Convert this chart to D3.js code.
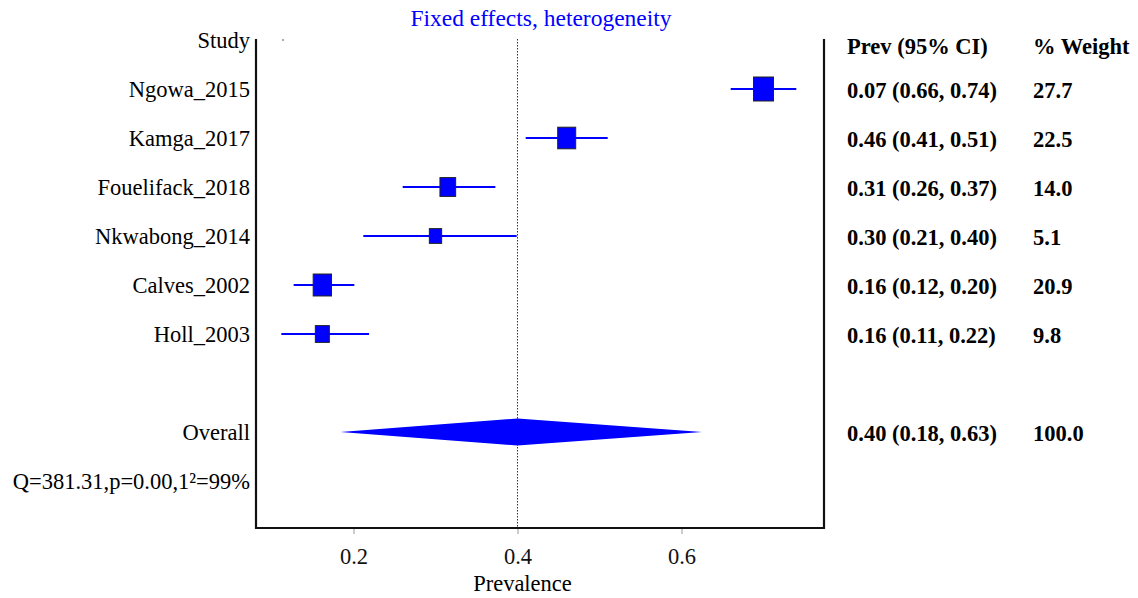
<!DOCTYPE html>
<html>
<head>
<meta charset="utf-8">
<script src="https://cdn.jsdelivr.net/npm/d3@7"></script>
<style>
  body { margin: 0; background: #fff; }
  text { font-family: "Liberation Serif", "Times New Roman", serif; }
</style>
</head>
<body>
<div id="chart"></div>
<script>
(function () {
// study data
var studies = ["Ngowa_2015", "Kamga_2017", "Fouelifack_2018", "Nkwabong_2014", "Calves_2002", "Holl_2003"];
var prev = [0.70, 0.46, 0.315, 0.30, 0.162, 0.162];
var lower = [0.66, 0.41, 0.26, 0.212, 0.127, 0.112];
var upper = [0.74, 0.51, 0.373, 0.399, 0.201, 0.219];
var ciLabels = ["0.07 (0.66, 0.74)", "0.46 (0.41, 0.51)", "0.31 (0.26, 0.37)", "0.30 (0.21, 0.40)", "0.16 (0.12, 0.20)", "0.16 (0.11, 0.22)"];
var weights = ["27.7", "22.5", "14.0", "5.1", "20.9", "9.8"];
var boxW = [20, 18, 15.7, 12.3, 18.3, 14];

var overall = { est: 0.40, lo: 0.184, hi: 0.625, label: "0.40 (0.18, 0.63)", weight: "100.0" };
var xTicks = [0.2, 0.4, 0.6];
var hetText = "Q=381.31,p=0.00,1\u00b2=99%";

var width = 1138, height = 598;
var left = 256, right = 824, top = 39, bottom = 528;
var fs = "22.5px";

var svg = d3.select("#chart").append("svg")
    .attr("width", width)
    .attr("height", height);

var x = d3.scaleLinear().domain([0.2, 0.6]).range([353.5, 681.5]);

// row positions
var rowY = function (i) { return 89 + i * 49; };
var overallY = 432, hetY = 481, headY = 42;

// title
svg.append("text")
    .attr("x", 541).attr("y", 26)
    .attr("text-anchor", "middle")
    .attr("fill", "#0000ff")
    .style("font-size", "23.5px")
    .text("Fixed effects, heterogeneity");

// frame (left, bottom, right)
svg.append("path")
    .attr("d", "M" + left + "," + top + "V" + bottom + "H" + right + "V" + top)
    .attr("fill", "none")
    .attr("stroke", "#111")
    .attr("stroke-width", 2.2);

// axis ticks + labels
var axis = d3.axisBottom(x).tickValues(xTicks).tickSize(5).tickFormat(d3.format(".1f"));
var gx = svg.append("g").attr("transform", "translate(0," + (bottom + 1) + ")").call(axis);
gx.select(".domain").remove();
gx.selectAll(".tick line").attr("stroke", "#999");
gx.selectAll(".tick text")
    .attr("y", 19)
    .attr("fill", "#111")
    .style("font-family", "Liberation Serif, serif")
    .style("font-size", fs);

svg.append("text")
    .attr("x", x(0.4) + 5).attr("y", 591)
    .attr("text-anchor", "middle")
    .style("font-size", fs)
    .text("Prevalence");

// reference line at overall estimate
svg.append("line")
    .attr("x1", x(overall.est)).attr("x2", x(overall.est))
    .attr("y1", top).attr("y2", bottom)
    .attr("stroke", "#333")
    .attr("stroke-width", 1)
    .attr("stroke-dasharray", "1.5,1.5");

// tiny stray dot near top
svg.append("circle").attr("cx", 283).attr("cy", 40).attr("r", 0.8).attr("fill", "#444");

// headers
svg.append("text").attr("x", 250).attr("y", headY + 6)
    .attr("text-anchor", "end").style("font-size", fs).text("Study");
svg.append("text").attr("x", 847).attr("y", headY + 12)
    .style("font-size", fs).style("font-weight", "bold").text("Prev (95% CI)");
svg.append("text").attr("x", 1033).attr("y", headY + 12)
    .style("font-size", fs).style("font-weight", "bold").text("% Weight");

// study rows
var rows = svg.append("g").selectAll("g").data(studies).enter().append("g");

rows.append("text")
    .attr("x", 250).attr("y", function (d, i) { return rowY(i) + 8; })
    .attr("text-anchor", "end")
    .style("font-size", fs)
    .text(function (d) { return d; });

rows.append("line")
    .attr("x1", function (d, i) { return x(lower[i]); })
    .attr("x2", function (d, i) { return x(upper[i]); })
    .attr("y1", function (d, i) { return rowY(i); })
    .attr("y2", function (d, i) { return rowY(i); })
    .attr("stroke", "#0000ff")
    .attr("stroke-width", 2.2);

rows.append("rect")
    .attr("x", function (d, i) { return x(prev[i]) - boxW[i] / 2; })
    .attr("y", function (d, i) { return rowY(i) - boxW[i] * 1.2 / 2; })
    .attr("width", function (d, i) { return boxW[i]; })
    .attr("height", function (d, i) { return boxW[i] * 1.2; })
    .attr("fill", "#0000ff")
    .attr("stroke", "#222")
    .attr("stroke-width", 1);

rows.append("text")
    .attr("x", 847).attr("y", function (d, i) { return rowY(i) + 9; })
    .style("font-size", fs).style("font-weight", "bold")
    .text(function (d, i) { return ciLabels[i]; });

rows.append("text")
    .attr("x", 1033).attr("y", function (d, i) { return rowY(i) + 9; })
    .style("font-size", fs).style("font-weight", "bold")
    .text(function (d, i) { return weights[i]; });

// overall diamond
var dh = 13.5;
svg.append("path")
    .attr("d", "M" + x(overall.lo) + "," + overallY +
               "L" + x(overall.est) + "," + (overallY - dh) +
               "L" + x(overall.hi) + "," + overallY +
               "L" + x(overall.est) + "," + (overallY + dh) + "Z")
    .attr("fill", "#0000ff");

svg.append("text").attr("x", 250).attr("y", overallY + 8)
    .attr("text-anchor", "end").style("font-size", fs).text("Overall");
svg.append("text").attr("x", 847).attr("y", overallY + 9)
    .style("font-size", fs).style("font-weight", "bold").text(overall.label);
svg.append("text").attr("x", 1033).attr("y", overallY + 9)
    .style("font-size", fs).style("font-weight", "bold").text(overall.weight);

svg.append("text").attr("x", 250).attr("y", hetY + 8)
    .attr("text-anchor", "end").style("font-size", fs).text(hetText);
})();
</script>
</body>
</html>
